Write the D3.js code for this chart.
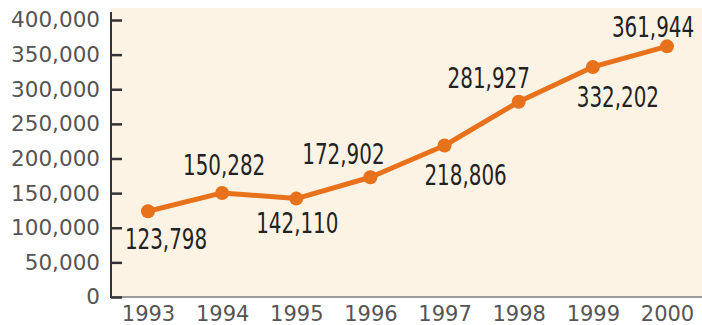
<!DOCTYPE html>
<html><head><meta charset="utf-8">
<script src="https://cdn.jsdelivr.net/npm/d3@7"></script>
<style>body{margin:0;background:#fff}svg{display:block}</style>
</head><body>
<svg id="c" width="702" height="325"></svg>
<script>
const years = ["1993","1994","1995","1996","1997","1998","1999","2000"];
const values = [123798,150282,142110,172902,218806,281927,332202,361944];
const yTicks = [0,50000,100000,150000,200000,250000,300000,350000,400000];
// label placement relative to each point: [dx, dy]
const labelOffsets = [[18,38],[2,-18],[1,34],[-27,-13],[21,40],[-30,-14],[25,40],[-14,-9]];

(function(){
const svg = d3.select("#c");
const mLeft = 111, mRight = 702, mTop = 8, mBottom = 297;
const x = d3.scalePoint().domain(years).range([148,667]);
const y = d3.scaleLinear().domain([0,400000]).range([mBottom,20]);

svg.append("rect").attr("x",mLeft).attr("y",mTop).attr("width",mRight-mLeft).attr("height",mBottom-mTop).attr("fill","#fdf3e5");

const xa = svg.append("g").attr("transform",`translate(0,${mBottom})`)
  .call(d3.axisBottom(x).tickSize(0).tickPadding(8));
xa.select(".domain").remove();
xa.selectAll("text").attr("font-family","DejaVu Sans").attr("font-size",21).attr("fill","#555").attr("dy","0.75em");
svg.append("line").attr("x1",mLeft).attr("x2",mRight).attr("y1",mBottom).attr("y2",mBottom).attr("stroke","#9a9a9a").attr("stroke-width",2);

const ya = svg.append("g").attr("transform",`translate(${mLeft},0)`)
  .call(d3.axisLeft(y).tickValues(yTicks).tickSize(0).tickPadding(11).tickFormat(d3.format(",")));
ya.select(".domain").remove();
ya.selectAll("text").attr("font-family","DejaVu Sans").attr("font-size",21.5).attr("fill","#555");
ya.selectAll(".tick").append("line").attr("x1",0).attr("x2",11).attr("stroke","#333").attr("stroke-width",2.5);
svg.append("line").attr("x1",mLeft).attr("x2",mLeft).attr("y1",12).attr("y2",mBottom+1).attr("stroke","#333").attr("stroke-width",2);

const data = years.map((yr,i)=>({yr,v:values[i],o:labelOffsets[i]}));
svg.append("path").datum(data)
  .attr("d",d3.line().x(d=>x(d.yr)).y(d=>y(d.v)))
  .attr("fill","none").attr("stroke","#e8721c").attr("stroke-width",5).attr("stroke-linejoin","round");
svg.selectAll("circle.p").data(data).join("circle").attr("class","p")
  .attr("cx",d=>x(d.yr)).attr("cy",d=>y(d.v)).attr("r",7).attr("fill","#e8721c");
svg.selectAll("g.lbl").data(data).join("g").attr("class","lbl")
  .attr("transform",d=>`translate(${x(d.yr)+d.o[0]},${y(d.v)+d.o[1]}) scale(0.79,1)`)
  .append("text")
  .attr("text-anchor","middle")
  .attr("font-family","'DejaVu Sans Condensed','DejaVu Sans',sans-serif")
  .attr("font-size",28).attr("fill","#222")
  .text(d=>d3.format(",")(d.v));
})();
</script>
</body></html>
